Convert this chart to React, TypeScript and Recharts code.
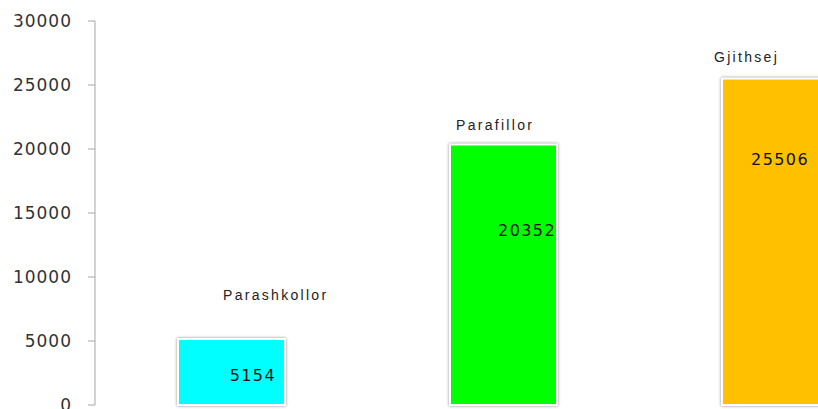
import { BarChart, Bar, XAxis, YAxis, LabelList } from 'recharts'

const categories = ['Parashkollor', 'Parafillor', 'Gjithsej']
const values = [5154, 20352, 25506]
const barColors = ['#00FFFF', '#00FF00', '#FFC000']
const yTicks = [0, 5000, 10000, 15000, 20000, 25000, 30000]

// hand-placed label nudges, like the original (relative to bar left/top and right/top)
const nameNudge = [{ dx: 45, dy: -44 }, { dx: 6, dy: -19 }, { dx: -8, dy: -22 }]
const valueNudge = [{ dx: -9, dy: 36 }, { dx: -1, dy: 86 }, { dx: -20, dy: 81 }]

const data = categories.map((name, i) => ({ name, value: values[i], color: barColors[i] }))

const BarShape = (props: any) => {
  const { x, y, width, height, payload } = props
  return (
    <rect
      x={x}
      y={y}
      width={width}
      height={height}
      fill={payload.color}
      stroke="#ffffff"
      strokeWidth={2}
      style={{ filter: 'drop-shadow(0px 0px 1.5px rgba(0,0,0,0.45))' }}
    />
  )
}

const NameLabel = (props: any) => {
  const { x, y, index, value } = props
  const n = nameNudge[index]
  return (
    <text
      x={x + n.dx}
      y={y + n.dy}
      dominantBaseline="central"
      fontFamily="Liberation Sans, Arial, sans-serif"
      fontSize={14}
      letterSpacing={2.3}
      fill="#222"
    >
      {value}
    </text>
  )
}

const ValueLabel = (props: any) => {
  const { x, y, width, index, value } = props
  const n = valueNudge[index]
  return (
    <text
      x={x + width + n.dx}
      y={y + n.dy}
      dominantBaseline="central"
      textAnchor="end"
      fontFamily="DejaVu Sans, Verdana, sans-serif"
      fontSize={16}
      letterSpacing={1.4}
      fill="#111"
    >
      {value}
    </text>
  )
}

export default function App() {
  return (
    <div style={{ position: 'absolute', left: 0, top: 0, width: 818, height: 409, overflow: 'hidden', background: '#fff' }}>
      <BarChart width={911} height={409} data={data} margin={{ top: 21, right: 0, left: 0, bottom: 4 }}>
        <XAxis dataKey="name" hide />
        <YAxis
          width={95}
          domain={[0, 30000]}
          ticks={yTicks}
          interval={0}
          axisLine={{ stroke: '#a6a6a6' }}
          tickLine={{ stroke: '#a6a6a6' }}
          tickSize={7}
          tickMargin={16}
          tick={{ fill: '#333', fontSize: 17, fontFamily: 'DejaVu Sans, Verdana, sans-serif', letterSpacing: 1 }}
        />
        <Bar dataKey="value" barSize={107} shape={<BarShape />} isAnimationActive={false}>
          <LabelList dataKey="name" content={<NameLabel />} />
          <LabelList dataKey="value" content={<ValueLabel />} />
        </Bar>
      </BarChart>
    </div>
  )
}
